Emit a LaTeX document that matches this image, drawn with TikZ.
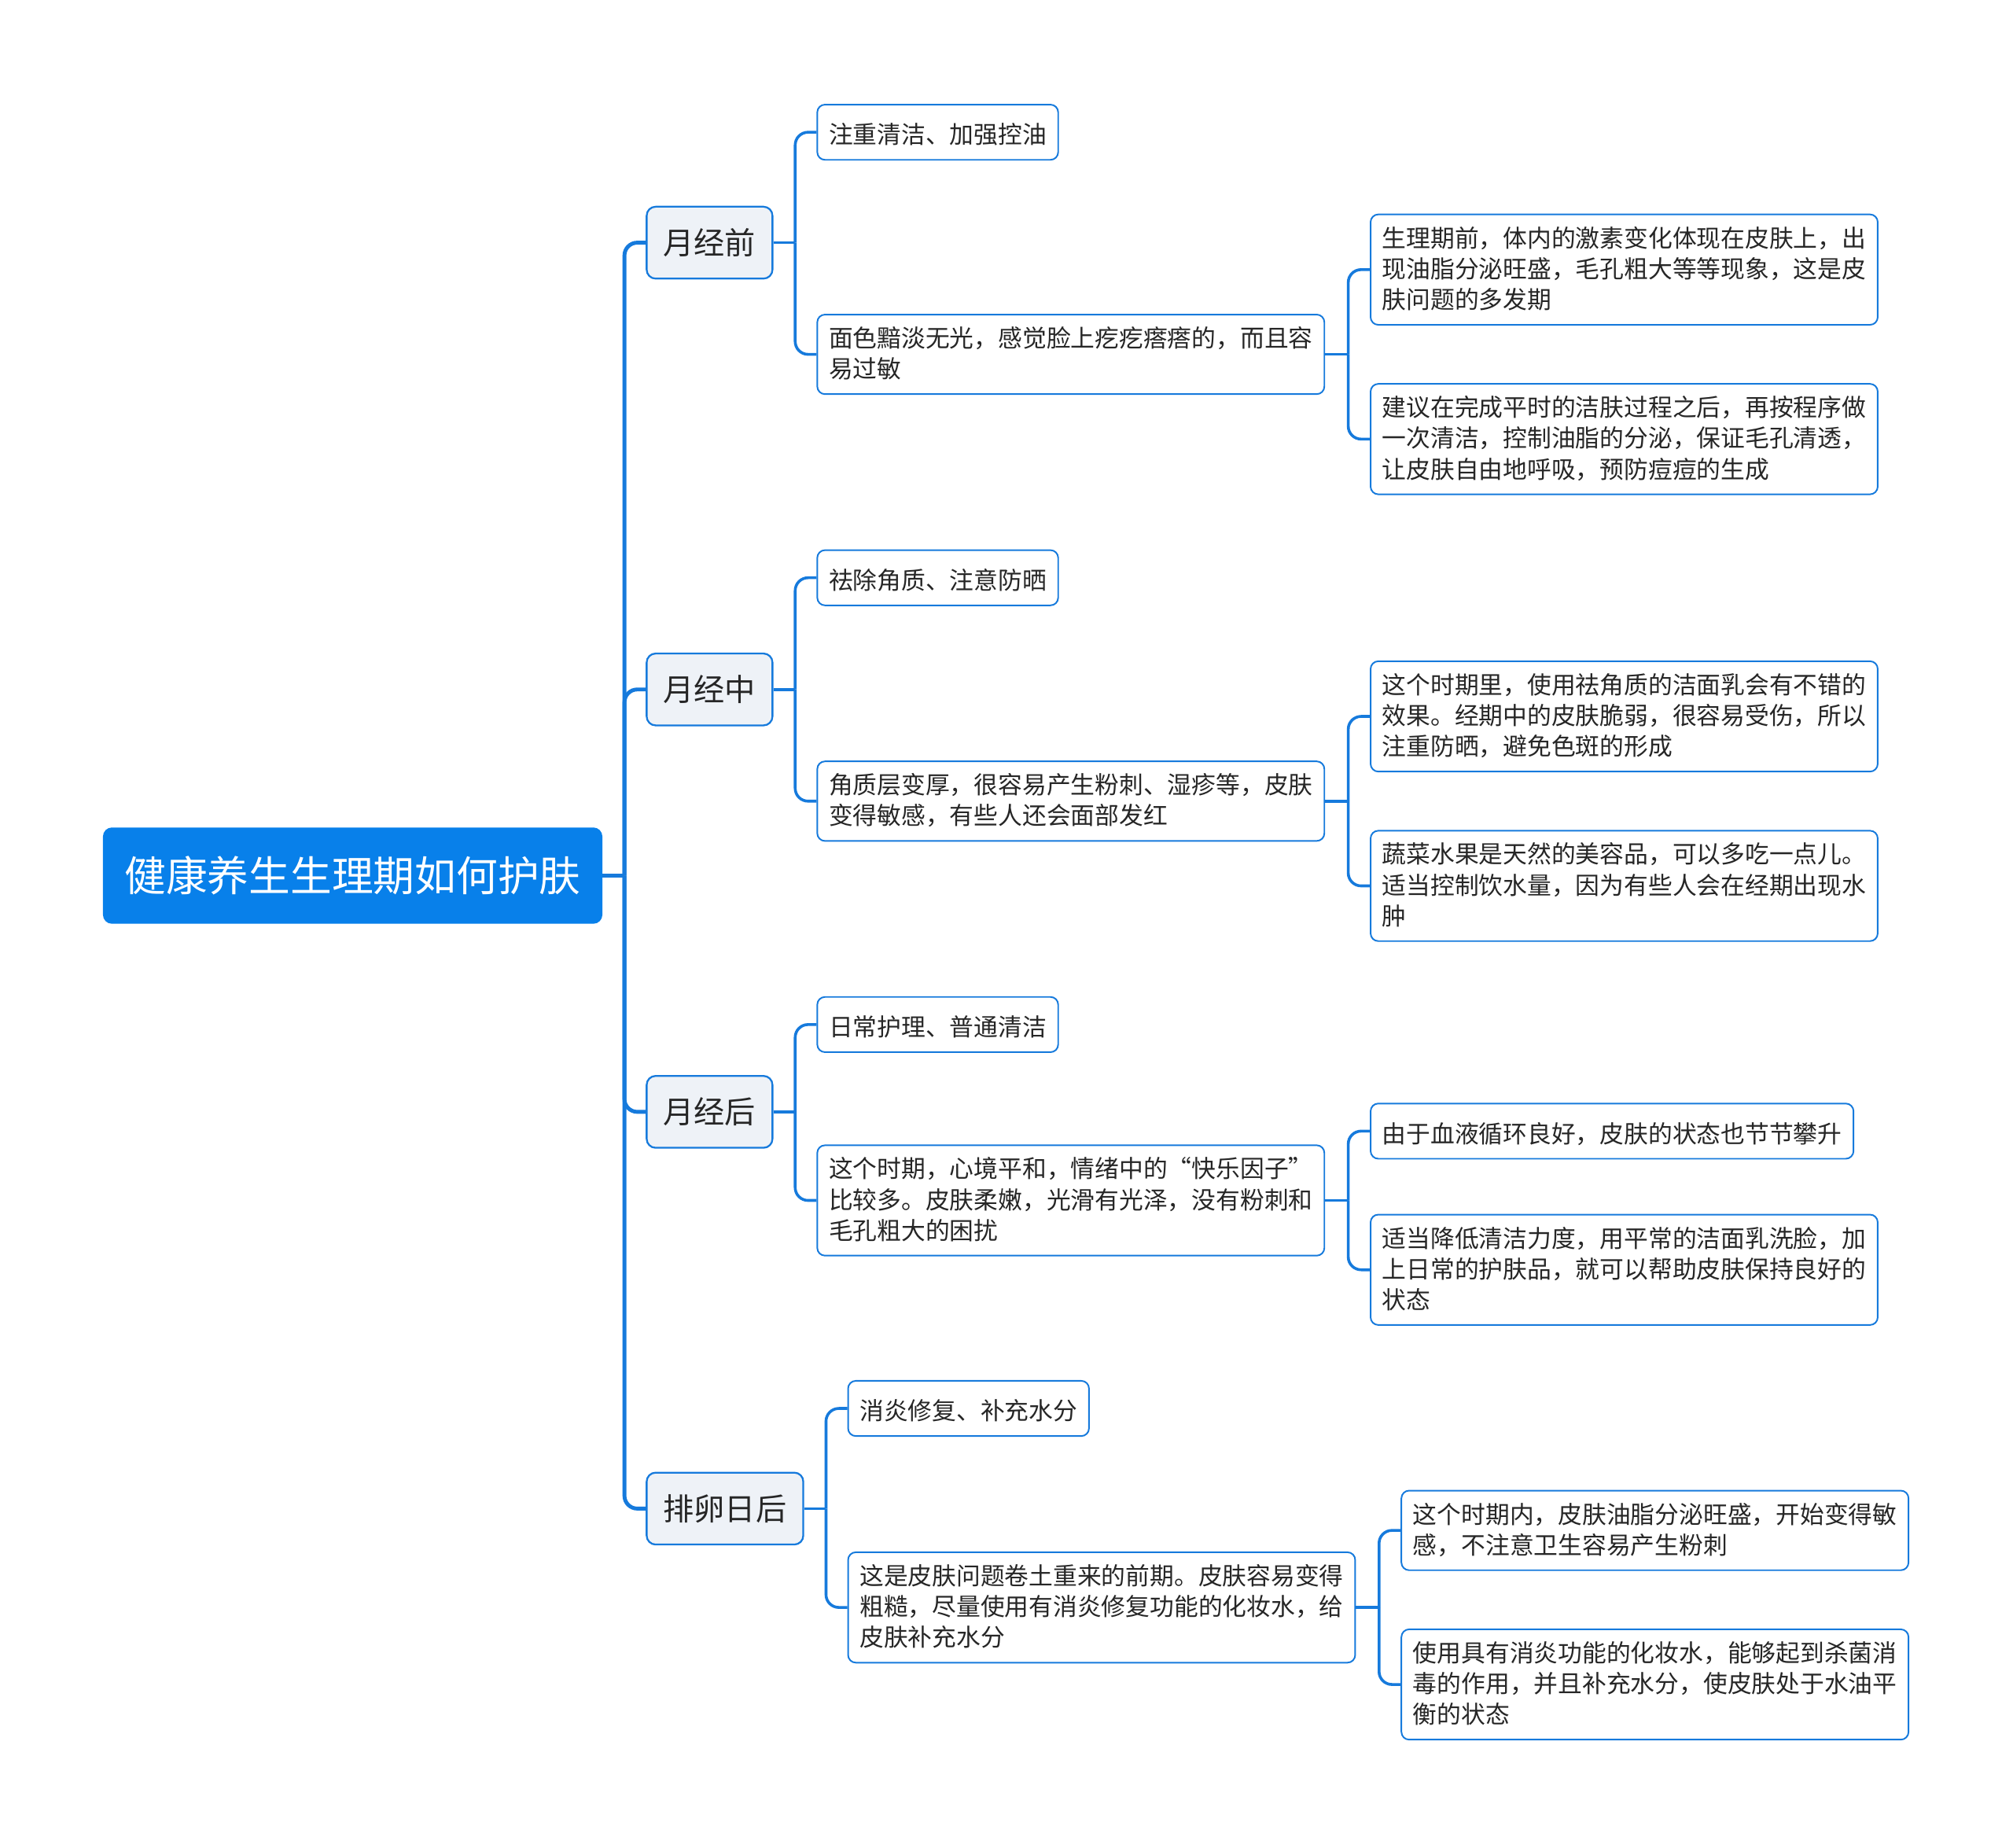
\documentclass[tikz,border=0pt]{standalone}
\usepackage{fontspec}
\newfontfamily\cjk{Noto Sans CJK SC}
\definecolor{rblue}{RGB}{8,128,234}
\definecolor{lblue}{RGB}{22,122,220}
\definecolor{bfill}{RGB}{238,242,247}
\newcommand\lst{\rule[-3pt]{0pt}{24pt}}
\begin{document}
\begin{tikzpicture}[x=1pt,y=-1pt]
\tikzstyle{rt} = [rectangle,rounded corners=7pt,fill=rblue,text=white,font=\cjk\fontsize{32.3}{40}\selectfont,text height=28.3pt,text depth=4pt,minimum width=389pt,minimum height=75pt,inner xsep=0pt,inner ysep=0pt,anchor=west] %root
\tikzstyle{br} = [rectangle,rounded corners=7pt,draw=lblue,line width=1.4pt,fill=bfill,text=black!85,font=\cjk\fontsize{24}{30}\selectfont,text height=21pt,text depth=3pt,inner xsep=13pt,inner ysep=16pt,anchor=west] %branch
\tikzstyle{lf} = [rectangle,rounded corners=6pt,draw=lblue,line width=1.2pt,fill=white,text=black!85,font=\cjk\fontsize{18.85}{24}\selectfont\lst,execute at end node=\lst,align=left,inner xsep=9pt,inner ysep=9.5pt,anchor=west] %leaf
\tikzstyle{cr} = [draw=lblue,line width=3pt,rounded corners=10pt] %root connector
\tikzstyle{cn} = [draw=lblue,line width=2.2pt,rounded corners=10pt] %connector
\useasboundingbox (0,0) rectangle (1568,1439);
\node[rt](r)at(80,682){健康养生生理期如何护肤};
\node[br](b1)at(503,189){月经前};
\node[br](b2)at(503,537){月经中};
\node[br](b3)at(503,866){月经后};
\node[br](b4)at(503,1175){排卵日后};
% 月经前
\node[lf](l11)at(636,103){注重清洁、加强控油};
\node[lf](l12)at(636,276){面色黯淡无光，感觉脸上疙疙瘩瘩的，而且容\\易过敏};
\node[lf](s121)at(1067,210){生理期前，体内的激素变化体现在皮肤上，出\\现油脂分泌旺盛，毛孔粗大等等现象，这是皮\\肤问题的多发期};
\node[lf](s122)at(1067,342){建议在完成平时的洁肤过程之后，再按程序做\\一次清洁，控制油脂的分泌，保证毛孔清透，\\让皮肤自由地呼吸，预防痘痘的生成};
% 月经中
\node[lf](l21)at(636,450){祛除角质、注意防晒};
\node[lf](l22)at(636,624){角质层变厚，很容易产生粉刺、湿疹等，皮肤\\变得敏感，有些人还会面部发红};
\node[lf](s221)at(1067,558){这个时期里，使用祛角质的洁面乳会有不错的\\效果。经期中的皮肤脆弱，很容易受伤，所以\\注重防晒，避免色斑的形成};
\node[lf](s222)at(1067,690){蔬菜水果是天然的美容品，可以多吃一点儿。\\适当控制饮水量，因为有些人会在经期出现水\\肿};
% 月经后
\node[lf](l31)at(636,798){日常护理、普通清洁};
\node[lf](l32)at(636,935){这个时期，心境平和，情绪中的“快乐因子”\\比较多。皮肤柔嫩，光滑有光泽，没有粉刺和\\毛孔粗大的困扰};
\node[lf](s321)at(1067,881){由于血液循环良好，皮肤的状态也节节攀升};
\node[lf](s322)at(1067,989){适当降低清洁力度，用平常的洁面乳洗脸，加\\上日常的护肤品，就可以帮助皮肤保持良好的\\状态};
% 排卵日后
\node[lf](l41)at(660,1097){消炎修复、补充水分};
\node[lf](l42)at(660,1252){这是皮肤问题卷土重来的前期。皮肤容易变得\\粗糙，尽量使用有消炎修复功能的化妆水，给\\皮肤补充水分};
\node[lf](s421)at(1091,1192){这个时期内，皮肤油脂分泌旺盛，开始变得敏\\感，不注意卫生容易产生粉刺};
\node[lf](s422)at(1091,1312){使用具有消炎功能的化妆水，能够起到杀菌消\\毒的作用，并且补充水分，使皮肤处于水油平\\衡的状态};
% connectors
\draw[cr](r.east)--++(17,0)coordinate(jr);
\draw[cr](jr)|-(b1.west);
\draw[cr](jr)|-(b2.west);
\draw[cr](jr)|-(b3.west);
\draw[cr](jr)|-(b4.west);
\draw[cn](b1.east)--++(17,0)coordinate(j1);
\draw[cn](j1)|-(l11.west);
\draw[cn](j1)|-(l12.west);
\draw[cn](l12.east)--++(18,0)coordinate(j12);
\draw[cn](j12)|-(s121.west);
\draw[cn](j12)|-(s122.west);
\draw[cn](b2.east)--++(17,0)coordinate(j2);
\draw[cn](j2)|-(l21.west);
\draw[cn](j2)|-(l22.west);
\draw[cn](l22.east)--++(18,0)coordinate(j22);
\draw[cn](j22)|-(s221.west);
\draw[cn](j22)|-(s222.west);
\draw[cn](b3.east)--++(17,0)coordinate(j3);
\draw[cn](j3)|-(l31.west);
\draw[cn](j3)|-(l32.west);
\draw[cn](l32.east)--++(18,0)coordinate(j32);
\draw[cn](j32)|-(s321.west);
\draw[cn](j32)|-(s322.west);
\draw[cn](b4.east)--++(17,0)coordinate(j4);
\draw[cn](j4)|-(l41.west);
\draw[cn](j4)|-(l42.west);
\draw[cn](l42.east)--++(18,0)coordinate(j42);
\draw[cn](j42)|-(s421.west);
\draw[cn](j42)|-(s422.west);
\end{tikzpicture}
\end{document}
